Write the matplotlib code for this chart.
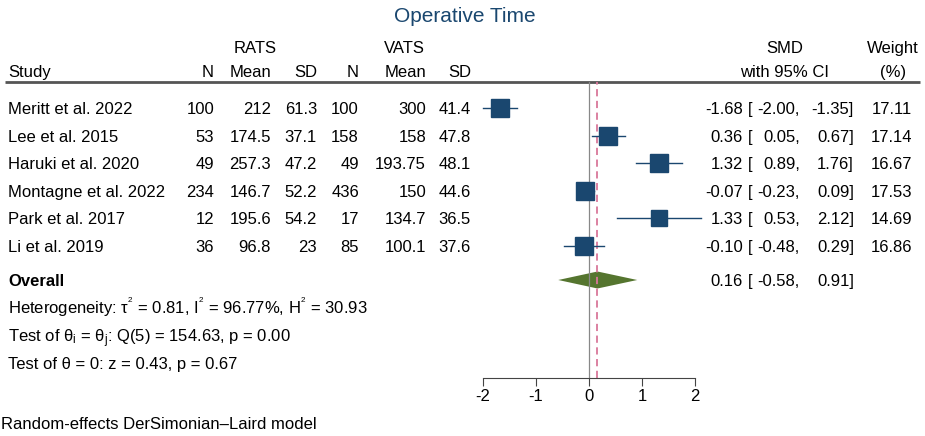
import matplotlib
matplotlib.use("Agg")
import matplotlib.pyplot as plt
import numpy as np

plt.rcParams['font.family'] = ['Liberation Sans', 'DejaVu Sans']
plt.rcParams['mathtext.fontset'] = 'custom'
plt.rcParams['mathtext.rm'] = 'Liberation Sans'
plt.rcParams['mathtext.it'] = 'Liberation Sans'

# data
studies = ["Meritt et al. 2022", "Lee et al. 2015", "Haruki et al. 2020",
           "Montagne et al. 2022", "Park et al. 2017", "Li et al. 2019"]
rats_n = [100, 53, 49, 234, 12, 36]
rats_mean = ["212", "174.5", "257.3", "146.7", "195.6", "96.8"]
rats_sd = ["61.3", "37.1", "47.2", "52.2", "54.2", "23"]
vats_n = [100, 158, 49, 436, 17, 85]
vats_mean = ["300", "158", "193.75", "150", "134.7", "100.1"]
vats_sd = ["41.4", "47.8", "48.1", "44.6", "36.5", "37.6"]
smd = [-1.68, 0.36, 1.32, -0.07, 1.33, -0.10]
ci_lo = [-2.00, 0.05, 0.89, -0.23, 0.53, -0.48]
ci_hi = [-1.35, 0.67, 1.76, 0.09, 2.12, 0.29]
weight = [17.11, 17.14, 16.67, 17.53, 14.69, 16.86]
overall = [0.16, -0.58, 0.91]

NAVY = "#1a476f"
GREEN = "#55752f"
PINK = "#d9779a"
FS = 12
BL = 6  # centre -> baseline offset (px)

fig = plt.figure(figsize=(9.25, 4.36), dpi=100)
ax = fig.add_axes([0, 0, 1, 1])
ax.set_xlim(0, 925)
ax.set_ylim(436, 0)
ax.axis("off")

def txt(x, y, s, ha="left", **kw):
    ax.text(x, y + BL, s, ha=ha, va="baseline", fontsize=kw.pop("fontsize", FS), **kw)

# row layout (pixel frame)
row0, dy = 108, 27.6
rows = [row0 + dy * i for i in range(len(studies))]
y_overall = 280
y_top, y_axis = 82, 378

# title and headers
txt(465, 16, "Operative Time", ha="center", fontsize=15, color=NAVY)
txt(255, 47, "RATS", ha="center")
txt(404, 47, "VATS", ha="center")
txt(785, 47, "SMD", ha="center")
txt(893, 47, "Weight", ha="center")
txt(8, 71, "Study")
col_x = [214, 271, 317, 359, 426, 471]
for x, lab in zip(col_x, ["N", "Mean", "SD", "N", "Mean", "SD"]):
    txt(x, 71, lab, ha="right")
txt(785, 71, "with 95% CI", ha="center")
txt(893, 71, "(%)", ha="center")
ax.plot([5, 920], [y_top, y_top], color="#555555", lw=2, solid_capstyle="butt")

def ci_text(y, est, lo, hi):
    txt(743, y, "%.2f" % est, ha="right")
    txt(748, y, "[")
    txt(800, y, "%.2f," % lo, ha="right")
    txt(854, y, "%.2f]" % hi, ha="right")

cols = [rats_n, rats_mean, rats_sd, vats_n, vats_mean, vats_sd]
for i, y in enumerate(rows):
    txt(8, y, studies[i])
    for x, c in zip(col_x, cols):
        txt(x, y, str(c[i]), ha="right")
    ci_text(y, smd[i], ci_lo[i], ci_hi[i])
    txt(912, y, "%.2f" % weight[i], ha="right")

txt(8, y_overall, "Overall", fontweight="bold")
ci_text(y_overall, *overall)
txt(8, 308, r"Heterogeneity: τ$^{^{2}}$ = 0.81, I$^{^{2}}$ = 96.77%, H$^{^{2}}$ = 30.93")
txt(8, 336, r"Test of θ$_{\mathrm{i}}$ = θ$_{\mathrm{j}}$: Q(5) = 154.63, p = 0.00")
txt(8, 363, "Test of θ = 0: z = 0.43, p = 0.67")
txt(1, 423, "Random-effects DerSimonian\u2013Laird model")

# forest panel
px_per = 53.0
x0, x1 = 470, 712
fax = fig.add_axes([x0 / 925, (436 - y_axis) / 436, (x1 - x0) / 925, (y_axis - y_top) / 436])
fax.set_xlim(-2 - (483 - x0) / px_per, 2 + (x1 - 695) / px_per)
fax.set_ylim(y_axis, y_top)
fax.patch.set_alpha(0)
for s in ["top", "right", "left"]:
    fax.spines[s].set_visible(False)
fax.spines["bottom"].set_bounds(-2, 2)
fax.spines["bottom"].set_color("#444444")
fax.set_yticks([])
fax.set_xticks([-2, -1, 0, 1, 2])
fax.set_xticklabels(["-2", "-1", "0", "1", "2"], fontsize=FS)
fax.tick_params(axis="x", length=6, color="#444444", pad=2)

fax.axvline(0, color="#888888", lw=0.9)
fax.axvline(overall[0], color=PINK, lw=1.3, ls=(0, (4, 2.5)))

for i, y in enumerate(rows):
    fax.plot([ci_lo[i], ci_hi[i]], [y, y], color=NAVY, lw=1)
    side = 13.0 * np.sqrt(weight[i] / max(weight))
    fax.plot(smd[i], y, marker="s", ms=side, color=NAVY, mec=NAVY)

est, lo, hi = overall
fax.fill([lo, est, hi, est], [y_overall, y_overall - 8.5, y_overall, y_overall + 8.5],
         color=GREEN, lw=0)

fig.savefig("out.png", dpi=100)
